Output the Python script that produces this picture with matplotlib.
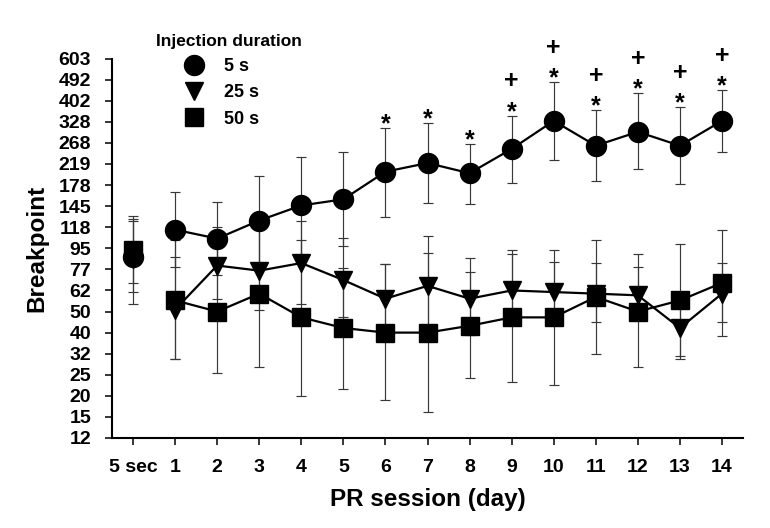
import numpy as np
import matplotlib.pyplot as plt
from matplotlib.lines import Line2D

plt.rcParams['font.family'] = ['Liberation Sans', 'DejaVu Sans']
plt.rcParams['font.weight'] = 'bold'

# breakpoint ladder of the PR schedule (equally spaced on the axis)
bp_ticks = [12, 15, 20, 25, 32, 40, 50, 62, 77, 95, 118, 145, 178, 219, 268, 328, 402, 492, 603]
x_labels = ['5 sec'] + [str(d) for d in range(1, 15)]
days = list(range(1, 15))

# 5 sec baseline (one session before the duration split): 5 s, 25 s, 50 s
base_mean = [87, 85, 93]
base_hi = [128, 126, 132]
base_lo = [61, 54, 67]

# 5 s injection duration
s5_mean = [115, 105, 126, 146, 155, 203, 221, 200, 253, 331, 261, 298, 261, 331]
s5_hi = [166, 151, 195, 235, 245, 309, 325, 266, 348, 482, 367, 433, 378, 446]
s5_lo = [79, 73, 80, 89, 97, 131, 149, 148, 182, 228, 185, 208, 180, 245]

# 25 s injection duration
s25_mean = [51, 80, 76, 82, 69, 57, 65, 57, 62, 61, 60, 59, 42, 60]
s25_hi = [87, 118, 115, 126, 106, 81, 108, 86, 93, 83, 82, 79, 60, 82]
s25_lo = [30, 57, 51, 54, 47, 41.6, 38.6, 39, 44, 47, 44.6, 47.5, 30, 44.6]

# 50 s injection duration
s50_mean = [56, 50, 60, 47, 42, 40, 40, 43, 47, 47, 58, 50, 56, 67]
s50_hi = [103, 95, 127, 104, 78, 81, 91, 75, 90, 93, 104, 89.5, 99, 115]
s50_lo = [30, 25.5, 27.5, 20, 21.6, 18.9, 16.1, 24.1, 23.1, 22.4, 31.8, 27.3, 31, 38.5]

# significance marks above the 5 s group
star_days = [6, 7, 8, 9, 10, 11, 12, 13, 14]
plus_days = [9, 10, 11, 12, 13, 14]


# axis scale: ticks equally spaced, log-interpolated between them
log_t = np.log(bp_ticks)
pos_t = np.arange(len(bp_ticks))


def fwd(v):
    v = np.clip(np.asarray(v, dtype=float), 1e-6, None)
    return np.interp(np.log(v), log_t, pos_t, left=-1, right=19)


def inv(p):
    return np.exp(np.interp(p, pos_t, log_t))


fig = plt.figure(figsize=(7.7, 5.28), dpi=100)
ax = fig.add_axes([112 / 770, 90 / 528, 631 / 770, 379.4 / 528])
ax.set_yscale('function', functions=(fwd, inv))

groups = [
    ('5 s', 'o', 14.4, s5_mean, s5_hi, s5_lo),
    ('25 s', 'v', 13.5, s25_mean, s25_hi, s25_lo),
    ('50 s', 's', 12.6, s50_mean, s50_hi, s50_lo),
]
err_kw = dict(fmt='none', ecolor='#383838', elinewidth=0.85, capsize=3.8, capthick=0.85, zorder=1)

handles = []
for i, (name, mk, ms, m, hi, lo) in enumerate(groups):
    m = np.array(m)
    yerr = [m - np.array(lo), np.array(hi) - m]
    ax.errorbar(days, m, yerr=yerr, **err_kw)
    bm = base_mean[i]
    ax.errorbar([0], [bm], yerr=[[bm - base_lo[i]], [base_hi[i] - bm]], **err_kw)
    ax.plot(days, m, color='black', lw=1.6, marker=mk, ms=ms, mec='black', mfc='black', zorder=3)
    ax.plot([0], [bm], ls='none', marker=mk, ms=ms, mec='black', mfc='black', zorder=3 + (2 - i) * 0.1)
    handles.append(Line2D([], [], ls='none', marker=mk, ms=ms, color='black'))

# * (and + on top of it) above the 5 s error bars
for d in star_days:
    mark = '+\n*' if d in plus_days else '*'
    ax.annotate(mark, xy=(d, s5_hi[d - 1]), xytext=(0, -6), textcoords='offset points',
                ha='center', va='bottom', fontsize=18, fontweight='bold', linespacing=1.35)

ax.set_xlim(-0.5, 14.5)
ax.set_ylim(bp_ticks[0], bp_ticks[-1])
ax.set_xticks(range(15))
ax.set_xticklabels(x_labels)
ax.set_yticks(bp_ticks)
ax.set_yticklabels([str(t) for t in bp_ticks])
ax.minorticks_off()

for s in ['top', 'right']:
    ax.spines[s].set_visible(False)
for s in ['left', 'bottom']:
    ax.spines[s].set_linewidth(1.5)
ax.tick_params(axis='y', direction='out', length=5, width=1.1, pad=10, labelsize=14)
ax.tick_params(axis='x', direction='out', length=5, width=1.1, pad=10, labelsize=14)

ax.set_ylabel('Breakpoint', fontsize=17.5, fontweight='bold', labelpad=7)
ax.set_xlabel('PR session (day)', fontsize=17.5, fontweight='bold', labelpad=9)

fig.text(156 / 770, 1 - 41.7 / 528, 'Injection duration', ha='left', va='center', fontsize=12.5)
fig.legend(handles, ['5 s', '25 s', '50 s'], loc='upper left',
           bbox_to_anchor=(183.6 / 770, 1 - 58 / 528), frameon=False, fontsize=13,
           handlelength=1.2, handletextpad=1.05, labelspacing=0.52, borderpad=0, borderaxespad=0)

fig.savefig('out.png', dpi=100)
